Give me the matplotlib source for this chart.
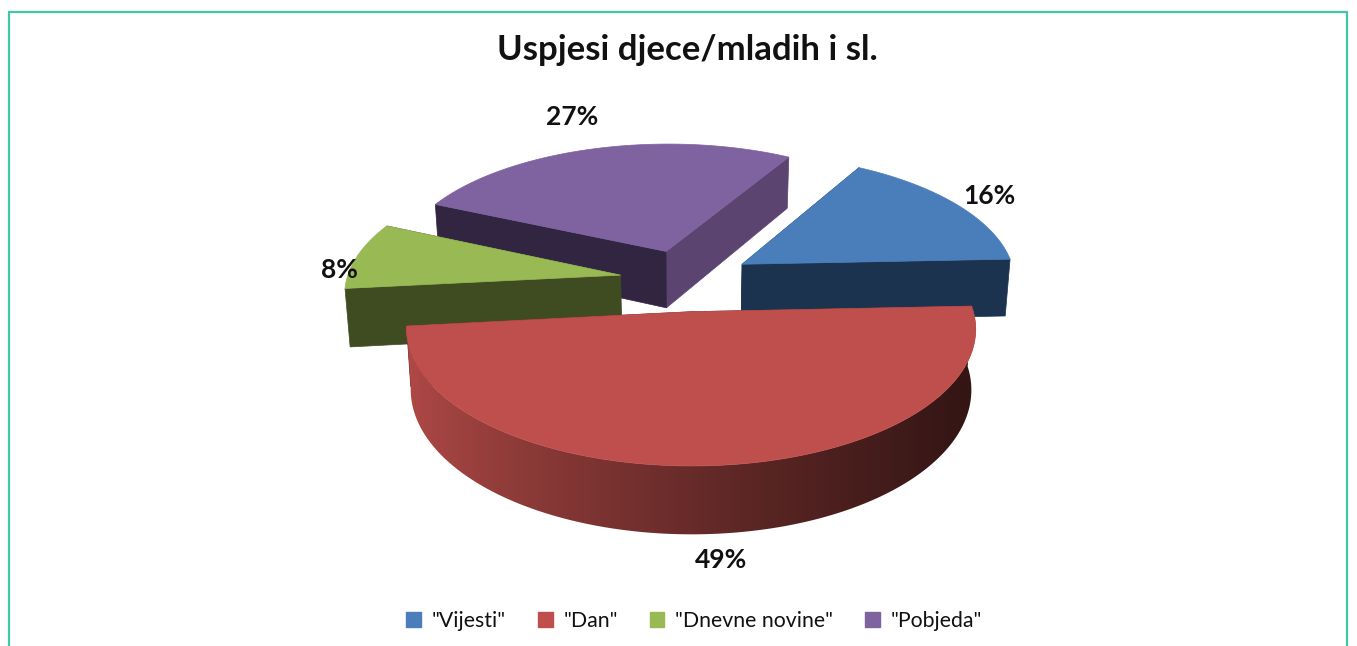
import numpy as np
import matplotlib
matplotlib.use("Agg")
import matplotlib.pyplot as plt
from matplotlib.patches import Patch, Polygon

# Chart data
title = 'Uspjesi djece/mladih i sl.'
categories = ['"Vijesti"', '"Dan"', '"Dnevne novine"', '"Pobjeda"']
values = [16.0, 49.0, 8.4, 26.6]
colors = ['#4a7ebb', '#be4f4c', '#98b954', '#7f63a1']
first_face = ['#1b334f', '#5a2320', '#3f4b21', '#322542']
last_face = ['#1b334f', '#5a2320', '#3f4b21', '#5b4570']

# Projection of the pie
cx, cy = 686, 280
rx, ry = 274, 127
persp = 0.122
explode = 0.243
height = 58
shrink = 0.985
start = 30.0


# Disc coordinates to pixels, with a little perspective
def project(u, v, down=False):
    w = 1 + persp * v
    x = rx * u / w
    y = cy - ry * v / w
    if down:
        x = x * shrink
        y = y + height / w
    return cx + x, y


fig = plt.figure(figsize=(13.57, 6.46), dpi=100)
ax = fig.add_axes([0, 0, 1, 1])

# Teal frame, open at the bottom
ax.plot([9, 9, 1347, 1347], [646, 12, 12, 646], color='#45c4ab', lw=1.6, solid_joinstyle='miter', zorder=0)

total = sum(values)
edges = start + np.cumsum([0] + values) / total * 360
xs = np.arange(1357)
tones = 0.92 - 0.66 * np.clip((xs - 410) / 570, 0, 1) ** 0.8
layer = 1


def draw_wedge(i):
    global layer
    a0, a1 = np.radians(edges[i]), np.radians(edges[i + 1])
    mid = (a0 + a1) / 2
    ox, oy = explode * np.sin(mid), explode * np.cos(mid)
    t = np.linspace(a0, a1, 240)
    u = ox + np.sin(t)
    v = oy + np.cos(t)

    # the two cut faces, the nearer one last
    faces = []
    for ang, col in [(a0, first_face[i]), (a1, last_face[i])]:
        eu, ev = ox + np.sin(ang), oy + np.cos(ang)
        pts = [project(ox, oy), project(eu, ev), project(eu, ev, down=True), project(ox, oy, down=True)]
        faces.append((ev, pts, col))
    faces.sort(key=lambda f: -f[0])
    for ev, pts, col in faces:
        ax.add_patch(Polygon(pts, closed=True, fc=col, ec=col, lw=0.5, zorder=layer))
        layer += 1

    x_top, y_top = project(u, v)

    # outer wall, only where most of the wedge is turned to the viewer
    front = np.cos(t) < 0.05
    if front.mean() > 0.5:
        x_low, y_low = project(u[front], v[front], down=True)
        wall = list(zip(x_top[front], y_top[front])) + list(zip(x_low[::-1], y_low[::-1]))
        rgb = np.array(matplotlib.colors.to_rgb(colors[i]))
        grad = (tones[:, None] * rgb)[None, :, :]
        im = ax.imshow(grad, extent=(0, 1357, 646, 0), aspect='auto', interpolation='bilinear', zorder=layer)
        im.set_clip_path(Polygon(wall, closed=True, transform=ax.transData))
        layer += 1

    # top
    top = [project(ox, oy)] + list(zip(x_top, y_top))
    ax.add_patch(Polygon(top, closed=True, fc=colors[i], ec=colors[i], lw=0.5, zorder=layer))
    layer += 1


# Back to front
for i in [3, 0, 2, 1]:
    draw_wedge(i)

ax.set_xlim(0, 1357)
ax.set_ylim(646, 0)
ax.axis('off')

# Labels
label_x = [989, 721, 339, 572]
label_y = [196, 560, 270, 117]
for i in range(len(values)):
    ax.text(label_x[i], label_y[i], f'{values[i]:.0f}%', ha='center', va='center', zorder=100,
            fontsize=19, fontweight='bold', family='Lato', color='#111111')

ax.text(687, 50, title, ha='center', va='center', fontsize=25, fontweight='bold',
        family='Lato', color='#111111', zorder=100)

handles = [Patch(fc=c, ec=c) for c in colors]
leg = ax.legend(handles, categories, loc='center', bbox_to_anchor=(694, 621), bbox_transform=ax.transData,
                ncol=4, frameon=False, handlelength=0.7, handleheight=0.7, handletextpad=0.5,
                columnspacing=1.5, prop={'family': 'Lato', 'size': 15.3}, labelcolor='#111111')
leg.set_zorder(100)

fig.savefig('out.png', dpi=100)
